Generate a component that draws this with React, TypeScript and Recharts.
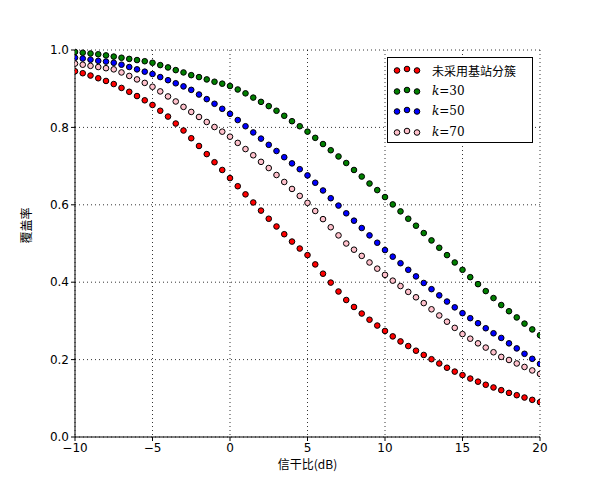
import { ScatterChart, Scatter, XAxis, YAxis, CartesianGrid, Label } from 'recharts'

const snr = Array.from({ length: 61 }, (_, i) => -10 + i * 0.5)

const noCluster = [
  0.945, 0.94, 0.934, 0.927, 0.92, 0.912, 0.902, 0.892, 0.881, 0.87, 0.858, 0.843, 0.828, 0.81, 0.792, 0.772,
  0.752, 0.731, 0.71, 0.69, 0.669, 0.648, 0.627, 0.606, 0.585, 0.564, 0.544, 0.524, 0.505, 0.487, 0.47, 0.446,
  0.422, 0.399, 0.376, 0.354, 0.336, 0.319, 0.303, 0.288, 0.274, 0.26, 0.247, 0.235, 0.223, 0.212, 0.201, 0.19,
  0.179, 0.169, 0.16, 0.151, 0.143, 0.135, 0.128, 0.121, 0.114, 0.108, 0.102, 0.096, 0.09,
]
const k30 = [
  0.995, 0.993, 0.991, 0.989, 0.986, 0.983, 0.98, 0.977, 0.974, 0.971, 0.967, 0.961, 0.955, 0.948, 0.942, 0.935,
  0.93, 0.924, 0.918, 0.913, 0.907, 0.898, 0.888, 0.877, 0.866, 0.855, 0.843, 0.83, 0.816, 0.803, 0.789, 0.773,
  0.757, 0.741, 0.725, 0.708, 0.69, 0.673, 0.655, 0.638, 0.62, 0.601, 0.583, 0.564, 0.546, 0.527, 0.508, 0.489,
  0.47, 0.451, 0.432, 0.413, 0.395, 0.377, 0.359, 0.341, 0.325, 0.309, 0.293, 0.278, 0.263,
]
const k50 = [
  0.98, 0.978, 0.975, 0.972, 0.97, 0.967, 0.962, 0.956, 0.95, 0.944, 0.938, 0.93, 0.922, 0.914, 0.906, 0.897,
  0.885, 0.873, 0.861, 0.848, 0.835, 0.819, 0.803, 0.787, 0.771, 0.755, 0.739, 0.723, 0.707, 0.692, 0.676, 0.657,
  0.637, 0.617, 0.598, 0.578, 0.559, 0.54, 0.521, 0.502, 0.483, 0.466, 0.449, 0.432, 0.415, 0.398, 0.382, 0.366,
  0.35, 0.335, 0.32, 0.307, 0.294, 0.281, 0.268, 0.256, 0.242, 0.229, 0.215, 0.202, 0.189,
]
const k70 = [
  0.965, 0.962, 0.959, 0.956, 0.953, 0.95, 0.942, 0.933, 0.924, 0.915, 0.905, 0.893, 0.88, 0.867, 0.853, 0.84,
  0.827, 0.814, 0.801, 0.789, 0.776, 0.76, 0.744, 0.728, 0.711, 0.695, 0.677, 0.659, 0.641, 0.623, 0.605, 0.584,
  0.563, 0.542, 0.521, 0.5, 0.484, 0.468, 0.451, 0.435, 0.419, 0.404, 0.39, 0.375, 0.361, 0.346, 0.33, 0.314,
  0.298, 0.282, 0.266, 0.254, 0.242, 0.231, 0.219, 0.207, 0.199, 0.19, 0.181, 0.172, 0.163,
]

const xTicks = [-10, -5, 0, 5, 10, 15, 20]
const yTicks = [0, 0.2, 0.4, 0.6, 0.8, 1.0]

const series = [
  { name: '未采用基站分簇', values: noCluster, color: '#ff0000', k: '' },
  { name: 'k=30', values: k30, color: '#007f00', k: '30' },
  { name: 'k=50', values: k50, color: '#0000ff', k: '50' },
  { name: 'k=70', values: k70, color: '#ffc0cb', k: '70' },
]

const toPoints = (values: number[]) => snr.map((x, i) => ({ x, y: values[i] }))

const Dot = (color: string) => (props: any) => (
  <circle cx={props.cx} cy={props.cy} r={2.8} fill={color} stroke="#000" strokeWidth={1} />
)

const font = 'DejaVu Sans, sans-serif'

export default function App() {
  return (
    <div style={{ position: 'absolute', left: 0, top: 0, width: 600, height: 500, background: '#fff' }}>
      <ScatterChart width={600} height={500} margin={{ top: 50, right: 60, bottom: 33, left: 35 }}>
        <CartesianGrid stroke="#000" strokeDasharray="1 3" strokeWidth={0.8} />
        <XAxis
          type="number"
          dataKey="x"
          domain={[-10, 20]}
          ticks={xTicks}
          height={30}
          tick={{ fontSize: 12, fill: '#000', fontFamily: font }}
          tickFormatter={(v) => (v < 0 ? '\u2212' + Math.abs(v) : String(v))}
          stroke="#000"
          tickSize={4}
          allowDataOverflow
        >
          <Label value="信干比(dB)" position="insideBottom" offset={-2} style={{ fontSize: 12, fill: '#000', fontFamily: 'Noto Sans CJK SC' }} />
        </XAxis>
        <XAxis xAxisId="top" orientation="top" type="number" dataKey="x" domain={[-10, 20]} ticks={xTicks} tick={false} height={0} stroke="#000" tickSize={0} />
        <YAxis
          type="number"
          dataKey="y"
          domain={[0, 1]}
          ticks={yTicks}
          width={40}
          tick={{ fontSize: 12, fill: '#000', fontFamily: font }}
          tickFormatter={(v) => v.toFixed(1)}
          stroke="#000"
          tickSize={4}
        >
          <Label value="覆盖率" angle={-90} position="insideLeft" offset={-8} style={{ fontSize: 12, fill: '#000', fontFamily: 'Noto Sans CJK SC' }} />
        </YAxis>
        <YAxis yAxisId="right" orientation="right" type="number" dataKey="y" domain={[0, 1]} tick={false} width={0} stroke="#000" tickSize={0} />
        {series.map((s) => (
          <Scatter key={s.name} name={s.name} data={toPoints(s.values)} shape={Dot(s.color)} isAnimationActive={false} />
        ))}
      </ScatterChart>
      <div
        style={{
          position: 'absolute', left: 387, top: 57, width: 146, height: 86, border: '1px solid #000',
          background: '#fff', fontSize: 12, boxSizing: 'border-box', padding: '2px 5px', whiteSpace: 'nowrap',
        }}
      >
        {series.map((s) => (
          <div key={s.name} style={{ display: 'flex', alignItems: 'center', height: 20.5 }}>
            <svg width={30} height={10}>
              {[4, 14, 24].map((cx, i) => (
                <circle key={cx} cx={cx} cy={i === 1 ? 4 : 5.5} r={2.8} fill={s.color} stroke="#000" strokeWidth={1} />
              ))}
            </svg>
            <span style={{ marginLeft: 9, fontFamily: s.k ? 'DejaVu Serif, serif' : 'Noto Sans CJK SC' }}>
              {s.k ? (<><i>k</i>={s.k}</>) : s.name}
            </span>
          </div>
        ))}
      </div>
    </div>
  )
}
